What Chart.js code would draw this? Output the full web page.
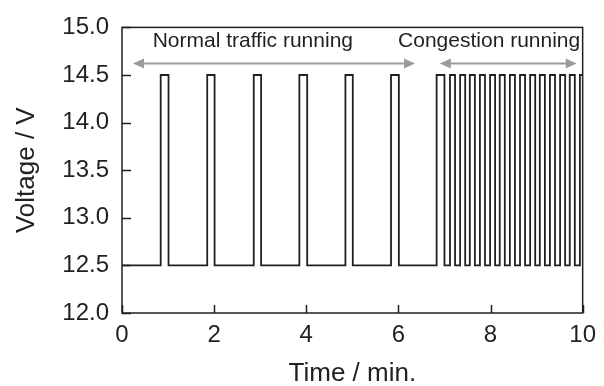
<!DOCTYPE html>
<html>
<head>
<meta charset="utf-8">
<script src="https://cdn.jsdelivr.net/npm/chart.js@4.4.1/dist/chart.umd.min.js"></script>
<style>
  html, body { margin: 0; padding: 0; background: #fff; }
  #wrap { width: 604px; height: 386px; position: relative; }
</style>
</head>
<body>
<div id="wrap"><canvas id="chart"></canvas></div>
<script>
// pulse edges (minutes)
const pulseStart = [0.84, 1.85, 2.86, 3.85, 4.85, 5.84, 6.83,
  7.12, 7.34, 7.55, 7.77, 7.99, 8.20, 8.42, 8.64, 8.86, 9.07, 9.29, 9.51, 9.72, 9.94];
const pulseEnd = [1.01, 2.01, 3.02, 4.02, 5.01, 6.01, 7.00,
  7.23, 7.45, 7.66, 7.88, 8.10, 8.31, 8.53, 8.75, 8.97, 9.18, 9.40, 9.62, 9.83, 10.05];
const lowVolt = 12.5;
const highVolt = 14.5;
const timeRange = [0, 10];
const yTicks = [12.0, 12.5, 13.0, 13.5, 14.0, 14.5, 15.0];
const xTicks = [0, 2, 4, 6, 8, 10];

// annotations (data units)
const regionLabels = ['Normal traffic running', 'Congestion running'];
const labelX = [2.84, 7.97];
const arrowFrom = [0.24, 6.90];
const arrowTo = [6.36, 9.87];
const arrowY = 14.62;
const labelY = 14.86;

const ink = '#231f20';
const fontFam = '"Liberation Sans", Arial, Helvetica, sans-serif';

// build step trace
const trace = [{ x: timeRange[0], y: lowVolt }];
pulseStart.forEach((s, i) => {
  trace.push({ x: s, y: lowVolt });
  trace.push({ x: s, y: highVolt });
  trace.push({ x: pulseEnd[i], y: highVolt });
  trace.push({ x: pulseEnd[i], y: lowVolt });
});

// frame + inward ticks + arrows
const decor = {
  id: 'decor',
  afterDatasetsDraw(chart) {
    const { ctx, chartArea: a, scales: { x, y } } = chart;
    ctx.save();
    ctx.strokeStyle = ink;
    ctx.lineWidth = 1.5;
    ctx.strokeRect(a.left, a.top, a.right - a.left, a.bottom - a.top);
    ctx.beginPath();
    xTicks.forEach(v => {
      const px = Math.round(x.getPixelForValue(v)) + 0.5;
      ctx.moveTo(px, a.bottom);
      ctx.lineTo(px, a.bottom - 8);
    });
    yTicks.forEach(v => {
      const py = Math.round(y.getPixelForValue(v)) + 0.5;
      ctx.moveTo(a.left, py);
      ctx.lineTo(a.left + 9, py);
    });
    ctx.stroke();

    // arrows
    ctx.strokeStyle = '#9b9b9b';
    ctx.fillStyle = '#9b9b9b';
    ctx.lineWidth = 2;
    const ay = y.getPixelForValue(arrowY);
    arrowFrom.forEach((f, i) => {
      const x1 = x.getPixelForValue(f), x2 = x.getPixelForValue(arrowTo[i]);
      ctx.beginPath();
      ctx.moveTo(x1 + 8, ay);
      ctx.lineTo(x2 - 8, ay);
      ctx.stroke();
      ctx.beginPath();
      ctx.moveTo(x1, ay); ctx.lineTo(x1 + 11, ay - 5); ctx.lineTo(x1 + 11, ay + 5); ctx.closePath();
      ctx.fill();
      ctx.beginPath();
      ctx.moveTo(x2, ay); ctx.lineTo(x2 - 11, ay - 5); ctx.lineTo(x2 - 11, ay + 5); ctx.closePath();
      ctx.fill();
    });

    ctx.fillStyle = ink;
    ctx.font = '21px ' + fontFam;
    ctx.textAlign = 'center';
    ctx.textBaseline = 'middle';
    regionLabels.forEach((t, i) => {
      ctx.fillText(t, x.getPixelForValue(labelX[i]), y.getPixelForValue(labelY));
    });
    ctx.restore();
  }
};

new Chart(document.getElementById('chart'), {
  type: 'line',
  data: {
    datasets: [{
      data: trace,
      borderColor: ink,
      borderWidth: 1.8,
      pointRadius: 0,
      tension: 0,
      fill: false
    }]
  },
  options: {
    responsive: true,
    maintainAspectRatio: false,
    animation: false,
    layout: { padding: { top: 24, right: 20, left: 0, bottom: 0 } },
    plugins: { legend: { display: false }, tooltip: { enabled: false } },
    scales: {
      x: {
        type: 'linear',
        min: timeRange[0],
        max: timeRange[1],
        afterBuildTicks: s => { s.ticks = xTicks.map(v => ({ value: v })); },
        afterFit: s => { s.height = 73; },
        grid: { drawOnChartArea: false, drawTicks: false },
        border: { display: false },
        ticks: { color: ink, padding: 8, maxRotation: 0, font: { size: 24, family: fontFam } },
        title: { display: true, text: 'Time / min.', color: ink, padding: { top: 0, bottom: 0 },
          font: { size: 26, family: fontFam, lineHeight: 0.9 } }
      },
      y: {
        min: 12,
        max: 15,
        afterBuildTicks: s => { s.ticks = yTicks.map(v => ({ value: v })); },
        afterFit: s => { s.width = 122; },
        grid: { drawOnChartArea: false, drawTicks: false },
        border: { display: false },
        ticks: { color: ink, padding: 13, callback: v => v.toFixed(1), font: { size: 24, family: fontFam } },
        title: { display: true, text: 'Voltage / V', color: ink, padding: { top: 15, bottom: 0 },
          font: { size: 26, family: fontFam, lineHeight: 0.9 } }
      }
    }
  },
  plugins: [decor]
});
</script>
</body>
</html>
